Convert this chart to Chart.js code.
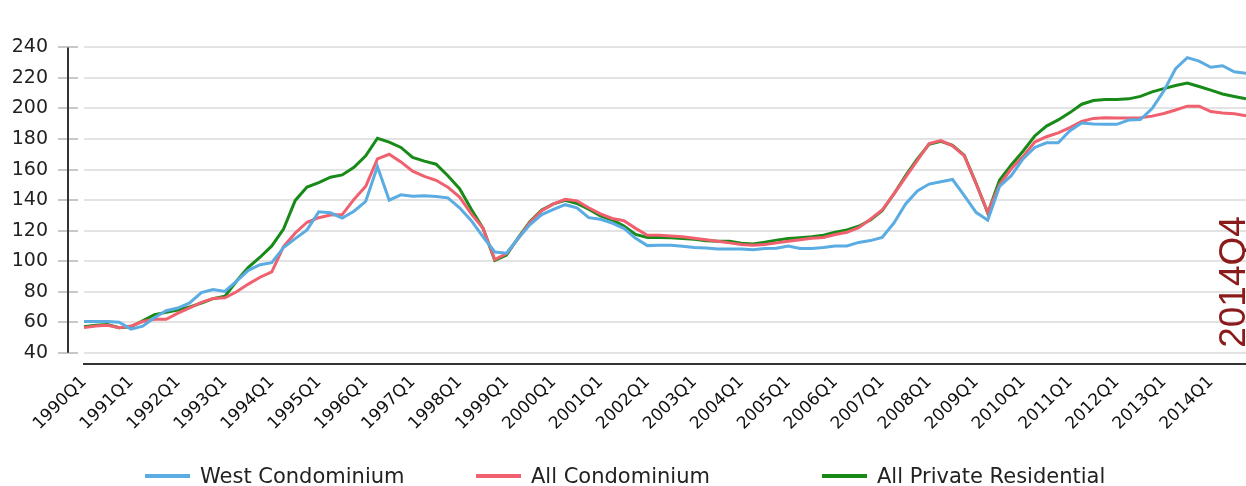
<!DOCTYPE html>
<html>
<head>
<meta charset="utf-8">
<script src="https://cdn.jsdelivr.net/npm/chart.js@4/dist/chart.umd.min.js"></script>
<style>
  html, body { margin: 0; padding: 0; background: #fff; }
  #wrap { position: relative; width: 1246px; height: 486px; }
  #legend { position: absolute; left: 0; top: 462px; width: 1246px; height: 28px;
            font: 21px "DejaVu Sans", sans-serif; color: #222; }
  .item { position: absolute; top: 0; height: 28px; display: flex; align-items: center; white-space: nowrap; }
  .sw { width: 45px; height: 4px; margin-right: 10px; }
</style>
</head>
<body>
<div id="wrap">
  <canvas id="c" width="1246" height="486"></canvas>
  <div id="legend"></div>
</div>
<script>
// Quarterly price index, 1990Q1 - 2014Q4
const years = [1990, 1991, 1992, 1993, 1994, 1995, 1996, 1997, 1998, 1999, 2000, 2001, 2002,
               2003, 2004, 2005, 2006, 2007, 2008, 2009, 2010, 2011, 2012, 2013, 2014];
const quarterNames = ['Q1', 'Q2', 'Q3', 'Q4'];
const quarters = [];
years.forEach(y => quarterNames.forEach(q => quarters.push(y + q)));

const yTicks = [40, 60, 80, 100, 120, 140, 160, 180, 200, 220, 240];

const seriesNames = ['West Condominium', 'All Condominium', 'All Private Residential'];
const seriesColors = ['#5aace2', '#f0606e', '#178a17'];

const westCondo = [
  60.5, 60.5, 60.5, 60, 55.5, 57.5, 63, 67.6, 69.3, 72.7,
  79.4, 81.5, 80.2, 87, 94, 97.7, 99, 109, 114.8, 120.5,
  132.3, 131.7, 128.2, 132.7, 139.2, 162, 140, 143.5, 142.5, 142.8,
  142.4, 141.5, 135, 126.5, 116, 106, 105.2, 115, 124, 130.5,
  134, 137, 135, 128.5, 127.5, 125, 121.5, 115, 110.2, 110.4,
  110.4, 109.8, 109, 108.7, 108, 108, 108, 107.5, 108.3, 108.5,
  110, 108.3, 108.3, 109, 110, 110, 112.3, 113.5, 115.5, 125,
  137.5, 146, 150.5, 152, 153.5, 143, 132, 126.8, 148.9, 156,
  167, 174.5, 177.5, 177.5, 185.5, 190.5, 189.8, 189.6, 189.6, 192.4,
  192.8, 200, 211.5, 226, 233.3, 231, 227, 228, 224, 223
];

const allCondo = [
  56.5, 57.5, 58, 56.5, 57.5, 60.5, 62, 62, 66, 69.5,
  73, 75.5, 76, 80, 85, 89.5, 93, 109.5, 118.5, 125.5,
  128.5, 130.3, 130.5, 140.5, 149, 167, 170, 165, 159, 155.5,
  153, 148.5, 142, 131, 121.5, 101, 105, 115, 125.5, 133,
  137.5, 140.5, 139.5, 135, 131, 128, 126.5, 121.5, 117, 117,
  116.5, 116, 115, 114, 113, 112, 111, 110.5, 111, 112,
  113, 114, 115, 115.5, 117.5, 119, 122, 127.5, 133.5, 144,
  155, 166, 177, 179, 175.5, 169, 151, 132, 150, 160.5,
  168.5, 178, 181.5, 184, 187.5, 191.5, 193.5, 194, 193.8, 193.7,
  194, 195, 196.7, 199, 201.5, 201.5, 198, 197, 196.5, 195.3
];

const allPrivate = [
  57, 58, 58.5, 56.5, 57, 61, 65, 66.5, 68, 70,
  72.5, 75.5, 77, 87, 96, 102.6, 110, 121, 139.8, 148.5,
  151.5, 155, 156.5, 161.5, 169, 180.5, 178, 174.5, 168, 165.5,
  163.5, 156, 147.5, 134, 121.5, 100.5, 104, 115.5, 126, 133.5,
  137.5, 139.8, 137.8, 134, 129.6, 127, 123, 117.5, 115.5, 115.5,
  115.4, 114.8, 114.4, 113.4, 113, 113, 111.7, 111.3, 112.4, 113.8,
  114.8, 115.4, 116, 117, 119, 120.5, 122.9, 127, 133, 144,
  156, 167, 176.5, 178.5, 175.8, 169.3, 151, 131.5, 153, 163,
  172, 182, 188.5, 192.5, 197.3, 202.8, 205.2, 205.9, 205.9, 206.3,
  207.9, 210.9, 213, 215, 216.6, 214.4, 212, 209.5, 207.9, 206.3
];

const seriesData = [westCondo, allCondo, allPrivate];

// Detached y-axis rule with short tick marks, plus the rotated period stamp
const axisDecor = {
  id: 'axisDecor',
  afterDraw(chart) {
    const { ctx, chartArea: a, scales: { y } } = chart;
    const top = y.getPixelForValue(yTicks[yTicks.length - 1]);
    const bottom = y.getPixelForValue(yTicks[0]);
    ctx.save();
    ctx.strokeStyle = '#c8c8c8';
    ctx.lineWidth = 2;
    yTicks.forEach(v => {
      const py = Math.round(y.getPixelForValue(v));
      ctx.beginPath();
      ctx.moveTo(a.left - 26, py);
      ctx.lineTo(a.left - 6, py);
      ctx.stroke();
    });
    ctx.strokeStyle = '#333';
    ctx.lineWidth = 2;
    ctx.beginPath();
    ctx.moveTo(a.left - 16, top);
    ctx.lineTo(a.left - 16, bottom);
    ctx.stroke();

    ctx.font = '37px "Liberation Sans", Arial, sans-serif';
    ctx.fillStyle = '#8b1a1a';
    ctx.translate(a.right - 1, bottom - 5);
    ctx.rotate(-Math.PI / 2);
    ctx.textAlign = 'left';
    ctx.textBaseline = 'alphabetic';
    ctx.fillText(quarters[quarters.length - 1], 0, 0);
    ctx.restore();
  }
};

new Chart(document.getElementById('c'), {
  type: 'line',
  data: {
    labels: quarters,
    datasets: seriesNames.map((name, i) => ({
      label: name,
      data: seriesData[i],
      borderColor: seriesColors[i],
      backgroundColor: seriesColors[i],
      borderWidth: 3,
      pointRadius: 0,
      tension: 0,
      fill: false
    }))
  },
  options: {
    responsive: false,
    animation: false,
    layout: { padding: { top: 24, right: 0, bottom: 0, left: 0 } },
    plugins: { legend: { display: false }, tooltip: { enabled: false } },
    scales: {
      x: {
        offset: false,
        grid: { drawOnChartArea: false, drawTicks: false },
        border: { display: true, color: '#333', width: 2 },
        ticks: {
          autoSkip: false,
          minRotation: 45,
          maxRotation: 45,
          padding: 8,
          color: '#111',
          font: { family: 'DejaVu Sans', size: 17 },
          callback(value) {
            const l = this.getLabelForValue(value);
            return l.endsWith('Q1') ? l : '';
          }
        },
        afterFit(s) { s.height = 122; s.paddingLeft = 0; s.paddingRight = 0; }
      },
      y: {
        min: 32.68,
        max: 240,
        ticks: {
          stepSize: 20,
          padding: 36,
          color: '#222',
          font: { family: 'DejaVu Sans', size: 19 }
        },
        grid: { color: '#e3e3e3', lineWidth: 2, drawTicks: false },
        border: { display: false },
        afterBuildTicks(s) { s.ticks = yTicks.map(v => ({ value: v })); },
        afterFit(s) { s.width = 84; }
      }
    }
  },
  plugins: [axisDecor]
});

// Legend row below the chart
const legendLeft = [145, 476, 822];
const legend = document.getElementById('legend');
seriesNames.forEach((name, i) => {
  const item = document.createElement('div');
  item.className = 'item';
  item.style.left = legendLeft[i] + 'px';
  const sw = document.createElement('span');
  sw.className = 'sw';
  sw.style.background = seriesColors[i];
  const tx = document.createElement('span');
  tx.textContent = name;
  item.appendChild(sw);
  item.appendChild(tx);
  legend.appendChild(item);
});
</script>
</body>
</html>
